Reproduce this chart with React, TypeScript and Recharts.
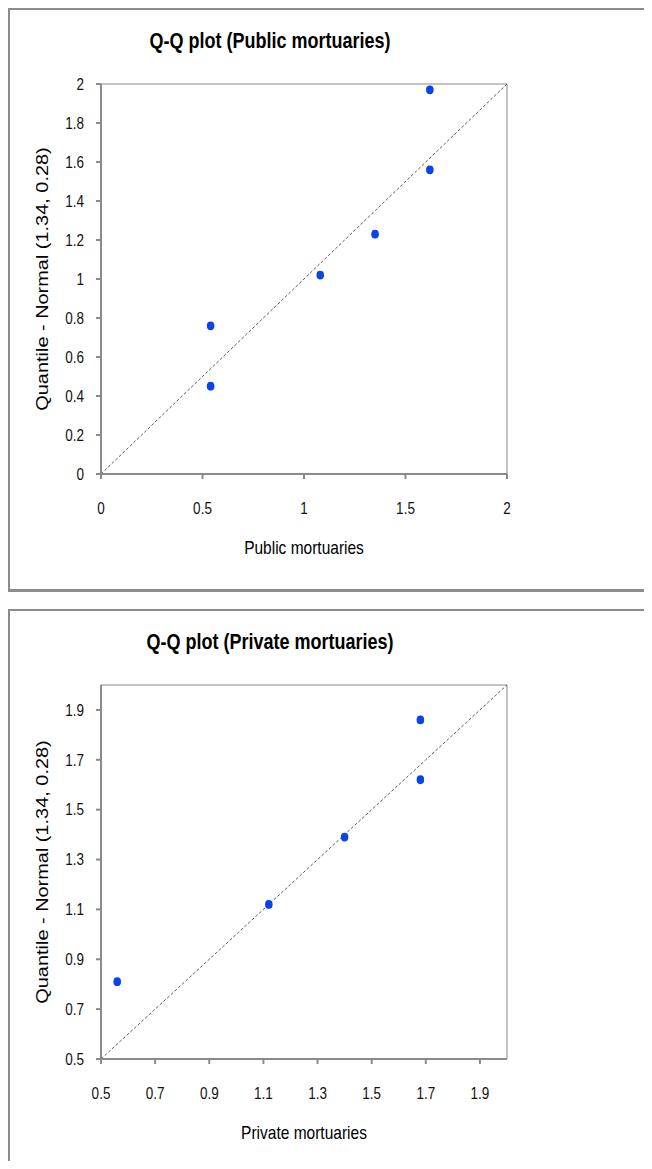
import { ScatterChart, Scatter, XAxis, YAxis, ReferenceLine } from 'recharts';

// public mortuaries
const publicSample = [0.54, 0.54, 1.08, 1.35, 1.62, 1.62];
const publicNormal = [0.45, 0.76, 1.02, 1.23, 1.56, 1.97];
const publicTicksX = [0, 0.5, 1, 1.5, 2];
const publicTicksY = [0, 0.2, 0.4, 0.6, 0.8, 1, 1.2, 1.4, 1.6, 1.8, 2];
const publicDomain = [0, 2];

// private mortuaries
const privateSample = [0.56, 1.12, 1.4, 1.68, 1.68];
const privateNormal = [0.81, 1.12, 1.39, 1.62, 1.86];
const privateTicks = [0.5, 0.7, 0.9, 1.1, 1.3, 1.5, 1.7, 1.9];
const privateDomain = [0.5, 2];

const FONT = '"Liberation Sans", Arial, sans-serif';
const DOT = '#0a44e8';

const XTick = (props: any) => {
  const { x, y, payload } = props;
  return (
    <text
      transform={`translate(${x},${y}) scale(1,1.2)`}
      textAnchor="middle"
      dy="0.71em"
      fontSize={13.5}
      fontFamily={FONT}
      fill="#111"
    >
      {payload.value}
    </text>
  );
};

const YTick = (props: any) => {
  const { x, y, payload } = props;
  return (
    <text
      transform={`translate(${x},${y}) scale(1,1.2)`}
      textAnchor="end"
      dy="0.355em"
      fontSize={13.5}
      fontFamily={FONT}
      fill="#111"
    >
      {payload.value}
    </text>
  );
};

const Dot = (props: any) => <ellipse cx={props.cx} cy={props.cy} rx={3.8} ry={4.4} fill={DOT} />;

interface QQProps {
  title: string;
  xTitle: string;
  sample: number[];
  normal: number[];
  domain: number[];
  ticksX: number[];
  ticksY: number[];
  height: number;
  bottomBorder: boolean;
  marginTop: number;
}

function QQPlot({ title, xTitle, sample, normal, domain, ticksX, ticksY, height, bottomBorder, marginTop }: QQProps) {
  const data = sample.map((s, i) => ({ x: s, y: normal[i] }));
  const plotBottom = height === 584 ? 466 : 450;
  const xTitleY = plotBottom + 74;
  const plotMid = (76 + plotBottom) / 2;
  return (
    <div style={{ position: 'relative', width: 644, height, marginTop }}>
      <ScatterChart
        width={644}
        height={height}
        margin={{ top: 76, right: 145, left: 33, bottom: height - plotBottom - 40 }}
      >
        <XAxis
          type="number"
          dataKey="x"
          domain={domain}
          ticks={ticksX}
          height={40}
          tickSize={5}
          tickMargin={23}
          stroke="#8a8a8a"
          strokeWidth={2}
          tick={<XTick />}
          allowDataOverflow
        />
        <YAxis
          type="number"
          dataKey="y"
          domain={domain}
          ticks={ticksY}
          width={60}
          tickSize={5}
          tickMargin={12}
          stroke="#8a8a8a"
          strokeWidth={2}
          tick={<YTick />}
          allowDataOverflow
        />
        <ReferenceLine y={domain[1]} stroke="#c4c4c4" strokeWidth={2} />
        <ReferenceLine x={domain[1]} stroke="#c4c4c4" strokeWidth={2} />
        <ReferenceLine
          segment={[{ x: domain[0], y: domain[0] }, { x: domain[1], y: domain[1] }]}
          stroke="#333"
          strokeWidth={0.8}
          strokeDasharray="3 2"
        />
        <Scatter data={data} shape={<Dot />} isAnimationActive={false} />
      </ScatterChart>
      <div
        style={{
          position: 'absolute',
          inset: 0,
          borderLeft: '2px solid #8c8c8c',
          borderTop: '2px solid #8c8c8c',
          borderBottom: bottomBorder ? '3px solid #8c8c8c' : 'none',
          pointerEvents: 'none',
        }}
      />
      <div
        style={{
          position: 'absolute',
          left: 262,
          top: 33,
          transform: 'translate(-50%, -50%) scale(1, 1.2)',
          fontFamily: FONT,
          fontWeight: 'bold',
          fontSize: 18,
          whiteSpace: 'nowrap',
          color: '#000',
        }}
      >
        {title}
      </div>
      <div
        style={{
          position: 'absolute',
          left: 296,
          top: xTitleY,
          transform: 'translate(-50%, -50%) scale(1, 1.2)',
          fontFamily: FONT,
          fontSize: 15.5,
          whiteSpace: 'nowrap',
          color: '#000',
        }}
      >
        {xTitle}
      </div>
      <div
        style={{
          position: 'absolute',
          left: 35,
          top: plotMid,
          transform: 'translate(-50%, -50%) rotate(-90deg) scale(1.2, 1)',
          fontFamily: FONT,
          fontSize: 16.6,
          whiteSpace: 'nowrap',
          color: '#000',
        }}
      >
        Quantile - Normal (1.34, 0.28)
      </div>
    </div>
  );
}

export default function App() {
  return (
    <div style={{ width: 644, overflow: 'hidden' }}>
      <QQPlot
        title="Q-Q plot (Public mortuaries)"
        xTitle="Public mortuaries"
        sample={publicSample}
        normal={publicNormal}
        domain={publicDomain}
        ticksX={publicTicksX}
        ticksY={publicTicksY}
        height={584}
        bottomBorder={true}
        marginTop={0}
      />
      <QQPlot
        title="Q-Q plot (Private mortuaries)"
        xTitle="Private mortuaries"
        sample={privateSample}
        normal={privateNormal}
        domain={privateDomain}
        ticksX={privateTicks}
        ticksY={privateTicks}
        height={552}
        bottomBorder={false}
        marginTop={17}
      />
    </div>
  );
}
